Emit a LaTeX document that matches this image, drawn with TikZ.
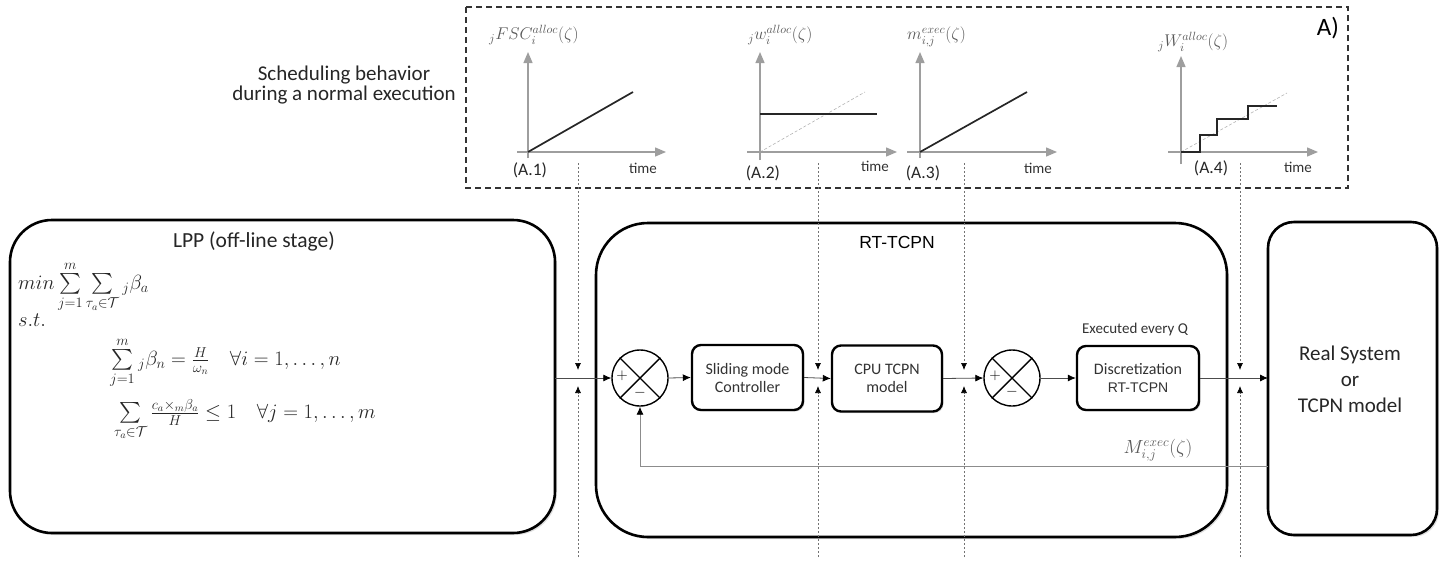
\documentclass[tikz,border=0pt]{standalone}
\usepackage{fix-cm}
\usepackage{amsmath}
\usepackage{fontspec}
\setmainfont{Carlito}
\newfontfamily\arialfont{Liberation Sans}
\usetikzlibrary{arrows.meta,shadows}

\tikzset{
  stage/.style={draw, line width=2.6pt, fill=white, outer sep=0pt,
    drop shadow={opacity=0.25, shadow xshift=2pt, shadow yshift=-2pt}},
  blk/.style={draw, rounded corners=9pt, line width=2.4pt, fill=white, align=center,
    inner sep=0pt, text=black!80, font=\fontsize{16}{18}\selectfont,
    drop shadow={opacity=0.25, shadow xshift=1.5pt, shadow yshift=-1.5pt}},
  sumj/.style={circle, draw, line width=1.4pt, minimum size=56pt, inner sep=0pt},
  sig/.style={draw=black!70, line width=0.8pt, -{Latex[length=8pt,width=7pt,color=black]}},
  probe/.style={draw=black!55, dash pattern=on 2pt off 2pt, line width=0.7pt,
    -{Latex[length=7pt,width=6pt,color=black]}},
  axis/.style={draw=black!38, line width=1.3pt, -{Triangle[length=11pt,width=9pt]}},
  curve/.style={draw=black!85, line width=1.7pt},
  guide/.style={draw=black!30, dash pattern=on 3pt off 2pt, line width=0.6pt},
  glabel/.style={text=black!65, inner sep=0pt, font=\fontsize{17}{20}\selectfont},
  tag/.style={text=black!85, font=\fontsize{17.5}{20}\selectfont},
  tlabel/.style={text=black!80, font=\fontsize{15}{18}\selectfont},
  formula/.style={anchor=west, inner sep=0pt, text=black!85, font=\fontsize{20.5}{22}\selectfont}
}

\begin{document}
\begin{tikzpicture}[x=1pt,y=-1pt]
\useasboundingbox (0,0) rectangle (1449,574);

% scheduling behaviour
\draw[black!80, line width=1.3pt, dash pattern=on 6pt off 4pt] (466,7) rectangle (1348,188);
\path (1328,28) node[font=\fontsize{25}{25}\selectfont] (atag) {A)};
\path (344,85) node[align=center, text=black!85, font=\fontsize{21}{20}\selectfont] (sched)
  {Scheduling behavior\\during a normal execution};

% A.1
\draw[axis] (528,158) -- (528,52);
\draw[axis] (517,152) -- (666,152);
\draw[curve] (528,152) -- (633,92);
\path (489,35) node[glabel, anchor=west] (g1) {${}_{j}FSC_i^{alloc}(\zeta)$};
\path (530,170) node[tag] (a1) {(A.1)};
\path (643,168) node[tlabel] (t1) {time};

% A.2
\draw[guide] (760,152) -- (865,92);
\draw[axis] (760,160) -- (760,52);
\draw[axis] (747,152) -- (897,152);
\draw[curve] (760,114) -- (877,114);
\path (748,35) node[glabel, anchor=west] (g2) {${}_{j}w_i^{alloc}(\zeta)$};
\path (763,173) node[tag] (a2) {(A.2)};
\path (875,166) node[tlabel] (t2) {time};

% A.3
\draw[axis] (920,158) -- (920,52);
\draw[axis] (907,152) -- (1057,152);
\draw[curve] (920,152) -- (1027,92);
\path (907,37) node[glabel, anchor=west] (g3) {$m_{i,j}^{exec}(\zeta)$};
\path (923,173) node[tag] (a3) {(A.3)};
\path (1038,168) node[tlabel] (t3) {time};

% A.4
\draw[guide] (1181,152) -- (1287,93);
\draw[axis] (1181,164) -- (1181,56);
\draw[axis] (1168,152) -- (1318,152);
\draw[curve] (1181,152) -- (1200,152) -- (1200,135) -- (1217,135) -- (1217,119)
  -- (1248,119) -- (1248,106) -- (1277,106);
\path (1158,42) node[glabel, anchor=west] (g4) {${}_{j}W_i^{alloc}(\zeta)$};
\path (1211,168) node[tag] (a4) {(A.4)};
\path (1298,167) node[tlabel] (t4) {time};

% stages
\path (282.5,376.5) node[stage, rounded corners=42pt, minimum width=545pt, minimum height=313pt] (lpp) {};
\path (911.5,380) node[stage, rounded corners=52pt, minimum width=631pt, minimum height=314pt] (rt) {};
\path (1352.5,378.5) node[stage, rounded corners=26pt, minimum width=169pt, minimum height=313pt] (real) {};

\path (254,241) node[inner sep=0pt, text=black!85, font=\fontsize{21.5}{24}\selectfont] (lpptitle) {LPP (off-line stage)};
\path (897,242) node[font=\arialfont\fontsize{17.5}{20}\selectfont] (rttitle) {RT-TCPN};
\path (1350,379) node[align=center, text=black!85, font=\fontsize{21}{26}\selectfont] (realtxt)
  {Real System\\or\\TCPN model};

% LPP formulation
\path (18,287) node[formula] (obj) {$min\sum\limits_{j=1}^{m}\sum\limits_{\tau_a\in\mathcal{T}}{}_{j}\beta_a$};
\path (18,320) node[formula] (st) {$s.t.$};
\path (110,363) node[formula] (c1) {$\sum\limits_{j=1}^{m}{}_{j}\beta_n=\frac{H}{\omega_n}\quad\forall i=1,\ldots,n$};
\path (114,420) node[formula] (c2) {$\sum\limits_{\tau_a\in\mathcal{T}}\frac{c_a\times{}_{m}\beta_a}{H}\leq 1\quad\forall j=1,\ldots,m$};

% control loop
\path (640,378) node[sumj] (sum1) {};
\draw[line width=1.4pt] (sum1.north east) -- (sum1.south west);
\draw[line width=1.4pt] (sum1.north west) -- (sum1.south east);
\path (622,376) node[font=\fontsize{15}{15}\selectfont] (p1) {$+$};
\path (640,393) node[font=\fontsize{15}{15}\selectfont] (m1) {$-$};

\path (747.5,377.5) node[blk, minimum width=111pt, minimum height=65pt] (slide) {Sliding mode\\Controller};
\path (887,378.5) node[blk, minimum width=110pt, minimum height=66pt] (cpu) {CPU TCPN\\model};

\path (1012,378) node[sumj] (sum2) {};
\draw[line width=1.4pt] (sum2.north east) -- (sum2.south west);
\draw[line width=1.4pt] (sum2.north west) -- (sum2.south east);
\path (995,376) node[font=\fontsize{15}{15}\selectfont] (p2) {$+$};
\path (1012,392) node[font=\fontsize{15}{15}\selectfont] (m2) {$-$};

\path (1138,378) node[blk, minimum width=122pt, minimum height=64pt] (disc)
  {Discretization\\{\arialfont\fontsize{14}{18}\selectfont RT-TCPN}};
\path (1135,329) node[tlabel] (every) {Executed every Q};

\draw[sig] (lpp.east |- sum1.west) -- (sum1.west);
\draw[sig] (sum1.east) -- (slide.west);
\draw[sig] (slide.east) -- (cpu.west);
\draw[sig] (cpu.east) -- (sum2.west);
\draw[sig] (sum2.east) -- (disc.west);
\draw[sig] (disc.east) -- (real.west |- disc.east);

% feedback
\coordinate (fb) at (640,466);
\draw[draw=black!45, line width=0.9pt, -{Latex[length=8pt,width=7pt,color=black]}] (real.west |- fb) -| (sum1.south);
\path (1158,450) node[text=black!65, font=\fontsize{19}{20}\selectfont] (mexec) {$M_{i,j}^{exec}(\zeta)$};

% probes
\coordinate (q1) at (578,163);
\coordinate (q1b) at (578,557);
\coordinate (q2) at (818,163);
\coordinate (q2b) at (818,557);
\coordinate (q3) at (964,163);
\coordinate (q3b) at (964,557);
\coordinate (q4) at (1240,163);
\coordinate (q4b) at (1240,557);
\draw[probe] (q1) -- ([yshift=8pt]q1 |- sum1.center);
\draw[probe] (q1b) -- ([yshift=-8pt]q1b |- sum1.center);
\draw[probe] (q2) -- ([yshift=8pt]q2 |- sum1.center);
\draw[probe] (q2b) -- ([yshift=-8pt]q2b |- sum1.center);
\draw[probe] (q3) -- ([yshift=8pt]q3 |- sum1.center);
\draw[probe] (q3b) -- ([yshift=-8pt]q3b |- sum1.center);
\draw[probe] (q4) -- ([yshift=8pt]q4 |- sum1.center);
\draw[probe] (q4b) -- ([yshift=-8pt]q4b |- sum1.center);
\end{tikzpicture}
\end{document}
